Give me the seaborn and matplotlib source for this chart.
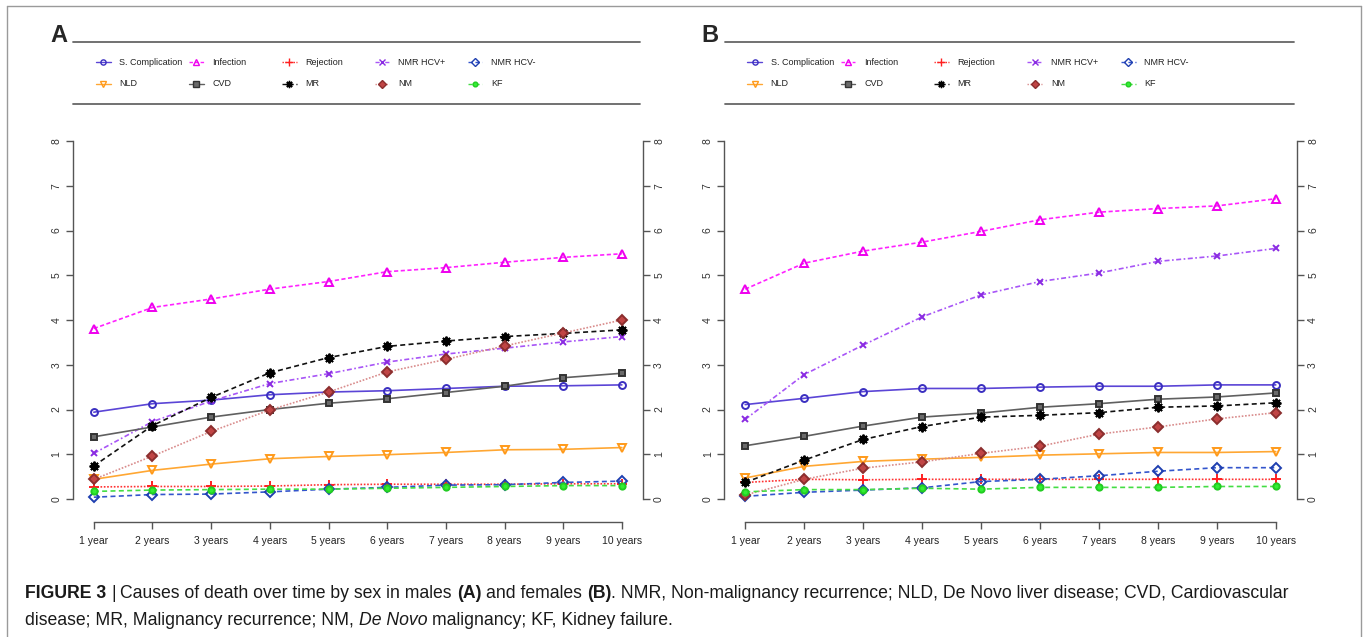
import matplotlib
matplotlib.use("Agg")
import matplotlib.pyplot as plt
from matplotlib.lines import Line2D
import seaborn as sns

sns.set_style("white")
plt.rcParams["font.family"] = ["Liberation Sans", "DejaVu Sans"]

years = ["1 year", "2 years", "3 years", "4 years", "5 years",
         "6 years", "7 years", "8 years", "9 years", "10 years"]
year_pos = list(range(1, 11))
causes = ["S. Complication", "Infection", "Rejection", "NMR HCV+", "NMR HCV-",
          "NLD", "CVD", "MR", "NM", "KF"]

# males (A)
m_scomp = [1.94, 2.13, 2.21, 2.33, 2.39, 2.42, 2.47, 2.52, 2.53, 2.55]
m_infection = [3.81, 4.28, 4.47, 4.69, 4.86, 5.08, 5.17, 5.29, 5.40, 5.48]
m_rejection = [0.27, 0.28, 0.28, 0.29, 0.32, 0.33, 0.33, 0.33, 0.34, 0.34]
m_nmr_pos = [1.02, 1.73, 2.19, 2.58, 2.80, 3.06, 3.24, 3.37, 3.51, 3.63]
m_nmr_neg = [0.04, 0.10, 0.11, 0.16, 0.22, 0.26, 0.31, 0.32, 0.37, 0.40]
m_nld = [0.44, 0.64, 0.78, 0.90, 0.95, 0.99, 1.04, 1.10, 1.11, 1.15]
m_cvd = [1.39, 1.61, 1.83, 2.00, 2.14, 2.24, 2.38, 2.52, 2.71, 2.81]
m_mr = [0.74, 1.64, 2.27, 2.82, 3.16, 3.41, 3.53, 3.63, 3.70, 3.78]
m_nm = [0.44, 0.96, 1.51, 1.99, 2.39, 2.84, 3.12, 3.42, 3.71, 4.00]
m_kf = [0.17, 0.20, 0.21, 0.22, 0.22, 0.24, 0.26, 0.28, 0.30, 0.30]

# females (B)
f_scomp = [2.11, 2.25, 2.40, 2.47, 2.47, 2.50, 2.52, 2.52, 2.55, 2.55]
f_infection = [4.69, 5.27, 5.54, 5.74, 5.98, 6.24, 6.41, 6.49, 6.55, 6.71]
f_rejection = [0.37, 0.44, 0.43, 0.44, 0.44, 0.44, 0.44, 0.44, 0.44, 0.44]
f_nmr_pos = [1.78, 2.78, 3.44, 4.07, 4.56, 4.86, 5.05, 5.31, 5.43, 5.60]
f_nmr_neg = [0.06, 0.15, 0.20, 0.25, 0.39, 0.44, 0.52, 0.62, 0.70, 0.70]
f_nld = [0.47, 0.73, 0.84, 0.89, 0.93, 0.98, 1.01, 1.04, 1.04, 1.06]
f_cvd = [1.19, 1.40, 1.63, 1.83, 1.92, 2.05, 2.13, 2.23, 2.28, 2.37]
f_mr = [0.37, 0.87, 1.33, 1.62, 1.83, 1.87, 1.93, 2.05, 2.08, 2.15]
f_nm = [0.09, 0.44, 0.69, 0.83, 1.02, 1.18, 1.45, 1.61, 1.79, 1.93]
f_kf = [0.16, 0.21, 0.21, 0.24, 0.22, 0.26, 0.26, 0.26, 0.28, 0.28]

males = [m_scomp, m_infection, m_rejection, m_nmr_pos, m_nmr_neg,
         m_nld, m_cvd, m_mr, m_nm, m_kf]
females = [f_scomp, f_infection, f_rejection, f_nmr_pos, f_nmr_neg,
           f_nld, f_cvd, f_mr, f_nm, f_kf]

# color, linestyle, marker, marker face, marker edge, marker size
styles = {
    "S. Complication": ("#5b45d6", "-", "o", "none", "#3a2fc0", 5),
    "Infection": ("#ff22ff", (0, (2.5, 1.5)), "^", "none", "#ee00ee", 5.5),
    "Rejection": ("#ff3030", (0, (1, 1)), "+", "#ff2020", "#ff2020", 7),
    "NMR HCV+": ("#a855f7", (0, (3, 1.5, 1, 1.5)), "x", "#8a2be2", "#8a2be2", 5),
    "NMR HCV-": ("#3355cc", (0, (3, 2)), "D", "none", "#1f3fb0", 5),
    "NLD": ("#ffa733", "-", "v", "none", "#ff9a1a", 6),
    "CVD": ("#606060", "-", "s", "#6a6a6a", "#333333", 5),
    "MR": ("#111111", (0, (3, 2)), (8, 2, 0), "#000000", "#000000", 7),
    "NM": ("#d98c8c", (0, (1, 1)), "D", "#c04545", "#8b2e2e", 5.5),
    "KF": ("#44dd44", (0, (3, 2)), "o", "#33ee33", "#22cc22", 4.5),
}

W, H = 1369, 637
fig = plt.figure(figsize=(W / 100, H / 100), dpi=100)


def fx(px):
    return px / W


def fy(py):
    return 1 - py / H


# figure frame (top, left, right)
for xs, ys in [([7, 1361], [6, 6]), ([7, 7], [6, 637]), ([1361, 1361], [6, 637])]:
    fig.add_artist(Line2D([fx(v) for v in xs], [fy(v) for v in ys],
                          color="#9a9a9a", lw=1.0, transform=fig.transFigure))

panels = [("A", males, 72.7, 643), ("B", females, 724, 1297)]

for letter, data, x0, x1 in panels:
    ax = fig.add_axes([fx(x0), fy(521.7), fx(x1 - x0), fy(141) - fy(521.7)])
    for cause, vals in zip(causes, data):
        col, ls, mk, mfc, mec, ms = styles[cause]
        sns.lineplot(x=year_pos, y=vals, ax=ax, color=col, linestyle=ls,
                     linewidth=1.2, marker=mk, markersize=ms,
                     markerfacecolor=mfc, markeredgecolor=mec,
                     markeredgewidth=1.4)
    ax.set_xlim(0.64, 10.36)
    ax.set_ylim(-0.507, 8)
    ax.set_xticks(year_pos)
    ax.set_xticklabels(years)
    ax.set_yticks(range(0, 9))
    ax.set_xlabel("")
    ax.set_ylabel("")
    for side in ["left", "right", "bottom"]:
        ax.spines[side].set_visible(True)
        ax.spines[side].set_color("#555555")
        ax.spines[side].set_linewidth(1.0)
    ax.spines["top"].set_visible(False)
    ax.spines["left"].set_bounds(0, 8)
    ax.spines["right"].set_bounds(0, 8)
    ax.spines["bottom"].set_bounds(1, 10)
    ax.tick_params(axis="y", left=True, right=True, labelleft=True,
                   labelright=True, direction="out", length=5, width=1.0,
                   color="#555555", labelsize=7.5, labelcolor="#333333",
                   pad=3, labelrotation=90)
    ax.tick_params(axis="x", bottom=True, direction="out", length=5, width=1.0,
                   color="#555555", labelsize=7.5, labelcolor="#222222", pad=5)
    for lab in ax.get_yticklabels():
        lab.set_va("center")
    ax.grid(False)

    # legend block above the panel
    lx0, lx1 = x0 + 0.5, x1 - 3
    lax = fig.add_axes([fx(lx0), fy(104), fx(lx1 - lx0), fy(42) - fy(104)])
    lax.set_xlim(0, 1)
    lax.set_ylim(0, 1)
    lax.axis("off")
    lax.plot([0, 1], [1, 1], color="#666666", lw=1.3, clip_on=False)
    lax.plot([0, 1], [0, 0], color="#666666", lw=1.3, clip_on=False)
    for i, cause in enumerate(causes):
        col, ls, mk, mfc, mec, ms = styles[cause]
        cx = 0.053 + (i % 5) * 0.164
        cy = 0.677 if i < 5 else 0.323
        d = 0.013
        lax.plot([cx - d, cx, cx + d], [cy, cy, cy], color=col, linestyle=ls,
                 lw=1.0, marker=mk, markevery=[1], markersize=ms * 0.75,
                 markerfacecolor=mfc, markeredgecolor=mec, markeredgewidth=1.0)
        lax.text(cx + 0.028, cy, cause, fontsize=6.5, va="center", ha="left",
                 color="#222222")
    fig.text(fx(x0 - 14), fy(36), letter, fontsize=17, fontweight="bold",
             ha="center", va="center")

# caption with mixed styles
renderer = fig.canvas.get_renderer()
cap_size = 12.7


def text_width(s, **kw):
    t = fig.text(0, 0, s, fontsize=cap_size, **kw)
    w = t.get_window_extent(renderer).width
    t.remove()
    return w


space_w = text_width("a a") - text_width("aa")


def rich_line(x_px, y_px, runs):
    x = x_px
    for txt, kw in runs:
        if txt.startswith(" "):
            x += space_w
        s = txt.strip()
        t = fig.text(fx(x), fy(y_px), s, fontsize=cap_size, ha="left",
                     va="baseline", color="#1a1a1a", **kw)
        x += t.get_window_extent(renderer).width
        if txt.endswith(" "):
            x += space_w


bold = {"fontweight": "bold"}
norm = {}
ital = {"fontstyle": "italic"}
rich_line(25, 598, [
    ("FIGURE 3 ", bold), ("| ", norm),
    ("Causes of death over time by sex in males ", norm), ("(A)", bold),
    (" and females ", norm), ("(B)", bold),
    (". NMR, Non-malignancy recurrence; NLD, De Novo liver disease; CVD, Cardiovascular", norm),
])
rich_line(25, 625, [
    ("disease; MR, Malignancy recurrence; NM, ", norm), ("De Novo", ital),
    (" malignancy; KF, Kidney failure.", norm),
])

fig.savefig("out.png", dpi=100)
